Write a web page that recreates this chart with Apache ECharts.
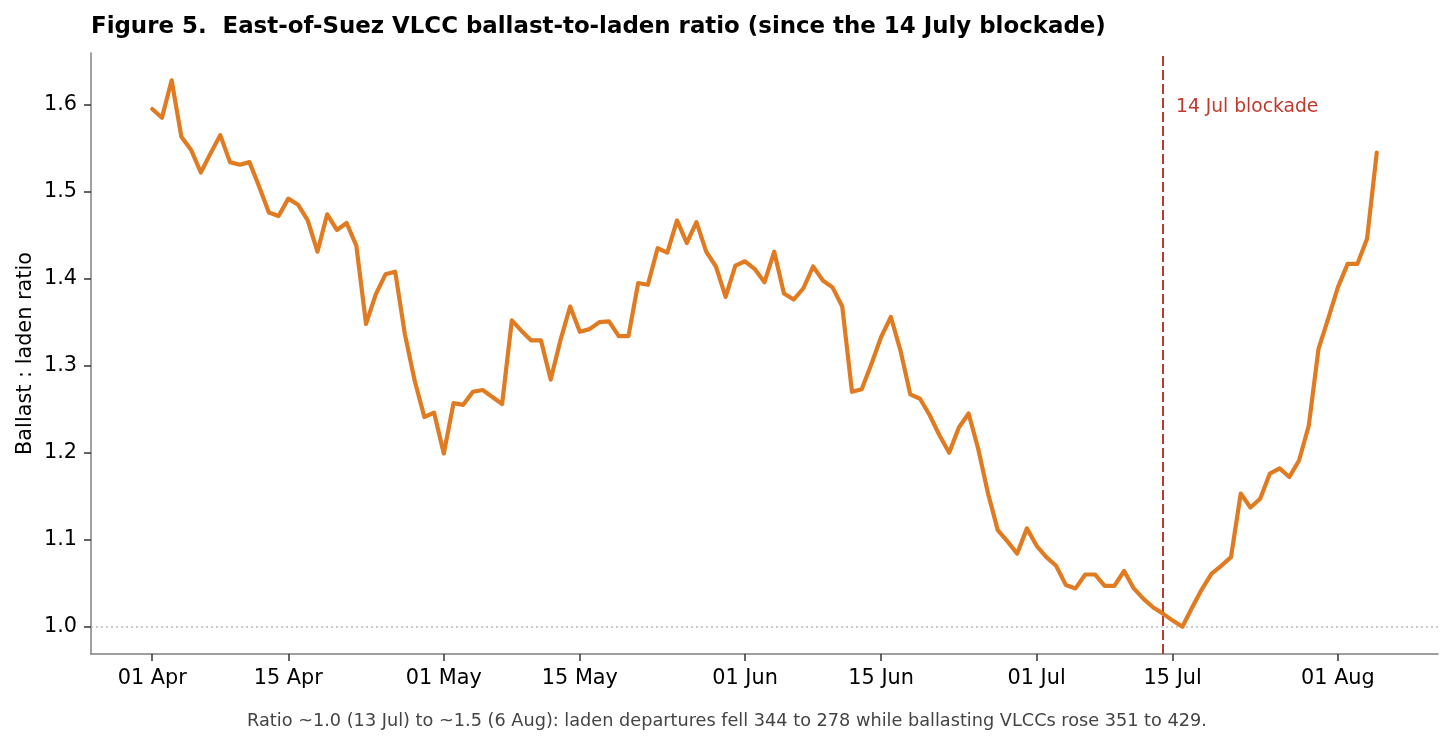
<!DOCTYPE html>
<html>
<head>
<meta charset="utf-8">
<script src="https://cdn.jsdelivr.net/npm/echarts/dist/echarts.min.js"></script>
<style>
  html, body { margin: 0; padding: 0; background: #fff; }
  #chart { width: 1454px; height: 745px; }
</style>
</head>
<body>
<div id="chart"></div>
<script>
// daily ratio, 01 Apr .. 05 Aug
var startDay = '2025-04-01';
var ratio = [
    1.595, 1.585, 1.628, 1.563, 1.548, 1.522, 1.544, 1.565, 1.534, 1.531,
    1.534, 1.506, 1.476, 1.472, 1.492, 1.485, 1.467, 1.431, 1.474, 1.456,
    1.464, 1.438, 1.348, 1.382, 1.405, 1.408, 1.336, 1.283, 1.241, 1.246,
    1.199, 1.257, 1.255, 1.270, 1.272, 1.264, 1.256, 1.352, 1.340, 1.329,
    1.329, 1.284, 1.329, 1.368, 1.339, 1.342, 1.350, 1.351, 1.334, 1.334,
    1.395, 1.393, 1.435, 1.430, 1.467, 1.441, 1.465, 1.431, 1.414, 1.379,
    1.415, 1.420, 1.411, 1.396, 1.431, 1.383, 1.376, 1.389, 1.414, 1.398,
    1.390, 1.368, 1.270, 1.273, 1.302, 1.333, 1.356, 1.317, 1.267, 1.262,
    1.243, 1.220, 1.200, 1.229, 1.245, 1.204, 1.153, 1.111, 1.098, 1.084,
    1.113, 1.093, 1.080, 1.070, 1.048, 1.044, 1.060, 1.060, 1.047, 1.047,
    1.064, 1.044, 1.032, 1.022, 1.015, 1.007, 1.000, 1.022, 1.043, 1.061,
    1.070, 1.080, 1.153, 1.137, 1.147, 1.176, 1.182, 1.172, 1.191, 1.231,
    1.319, 1.354, 1.390, 1.417, 1.417, 1.446, 1.545
];
var tickDates = ['2025-04-01', '2025-04-15', '2025-05-01', '2025-05-15', '2025-06-01',
                 '2025-06-15', '2025-07-01', '2025-07-15', '2025-08-01'];
var tickLabels = ['01 Apr', '15 Apr', '01 May', '15 May', '01 Jun',
                  '15 Jun', '01 Jul', '15 Jul', '01 Aug'];
var yTicks = [1.0, 1.1, 1.2, 1.3, 1.4, 1.5, 1.6];
var blockadeDay = '2025-07-14';

var DAY = 86400000;
function ts(s) {
    var p = s.split('-');
    return Date.UTC(+p[0], +p[1] - 1, +p[2]);
}

var t0 = ts(startDay);
var seriesData = [];
for (var i = 0; i < ratio.length; i++) {
    seriesData.push([t0 + i * DAY, ratio[i]]);
}
var tickVals = tickDates.map(ts);

// matplotlib-like 5% margins
var xSpan = (ratio.length - 1) * DAY;
var xMin = t0 - xSpan * 0.05, xMax = t0 + xSpan * 1.05;
var yLo = Math.min.apply(null, ratio), yHi = Math.max.apply(null, ratio);
var yPad = (yHi - yLo) * 0.05;

var font = 'DejaVu Sans';
var myChart = echarts.init(document.getElementById('chart'));
var option = {
    animation: false,
    backgroundColor: '#fff',
    textStyle: { fontFamily: font },
    title: {
        text: 'Figure 5.  East-of-Suez VLCC ballast-to-laden ratio (since the 14 July blockade)',
        left: 91,
        top: 16,
        padding: 0,
        textStyle: { fontFamily: font, fontSize: 22.9, fontWeight: 'bold', color: '#000' }
    },
    grid: { left: 91, right: 16, top: 53, bottom: 91 },
    xAxis: {
        type: 'value',
        min: xMin,
        max: xMax,
        splitLine: { show: false },
        axisLine: { lineStyle: { color: '#808080', width: 1.5 } },
        axisTick: { customValues: tickVals, length: 7, lineStyle: { color: '#333', width: 1.5 } },
        axisLabel: {
            customValues: tickVals,
            margin: 14,
            fontSize: 20.8,
            color: '#000',
            fontFamily: font,
            formatter: function (v) {
                var k = tickVals.indexOf(v);
                return k >= 0 ? tickLabels[k] : '';
            }
        }
    },
    yAxis: {
        type: 'value',
        min: yLo - yPad,
        max: yHi + yPad,
        name: 'Ballast : laden ratio',
        nameLocation: 'middle',
        nameGap: 55,
        nameMoveOverlap: false,
        nameTextStyle: { fontSize: 20.8, color: '#000', fontFamily: font },
        splitLine: { show: false },
        axisLine: { show: true, lineStyle: { color: '#808080', width: 1.5 } },
        axisTick: { show: true, customValues: yTicks, length: 7, lineStyle: { color: '#333', width: 1.5 } },
        axisLabel: {
            customValues: yTicks,
            margin: 14,
            fontSize: 20.8,
            color: '#000',
            fontFamily: font,
            formatter: function (v) { return v.toFixed(1); }
        }
    },
    series: [{
        type: 'line',
        data: seriesData,
        showSymbol: false,
        lineStyle: { color: '#e07b22', width: 4.2, join: 'round', cap: 'round' },
        z: 5,
        markLine: {
            silent: true,
            symbol: 'none',
            label: { show: false },
            data: [
                { yAxis: 1.0, lineStyle: { color: '#bbbbbb', width: 1.5, type: [2, 3] } },
                { xAxis: ts(blockadeDay), lineStyle: { color: '#c0392b', width: 2, type: [10, 4] } }
            ]
        }
    }],
    graphic: [
        {
            type: 'text',
            left: 1176,
            top: 98,
            style: { text: '14 Jul blockade', fontFamily: font, fontSize: 18.7, fill: '#c0392b' }
        },
        {
            type: 'text',
            x: 727,
            y: 721,
            style: {
                text: 'Ratio ~1.0 (13 Jul) to ~1.5 (6 Aug): laden departures fell 344 to 278 while ballasting VLCCs rose 351 to 429.',
                fontFamily: font, fontSize: 17.7, fill: '#444',
                align: 'center', verticalAlign: 'middle'
            }
        }
    ]
};
myChart.setOption(option);
</script>
</body>
</html>
